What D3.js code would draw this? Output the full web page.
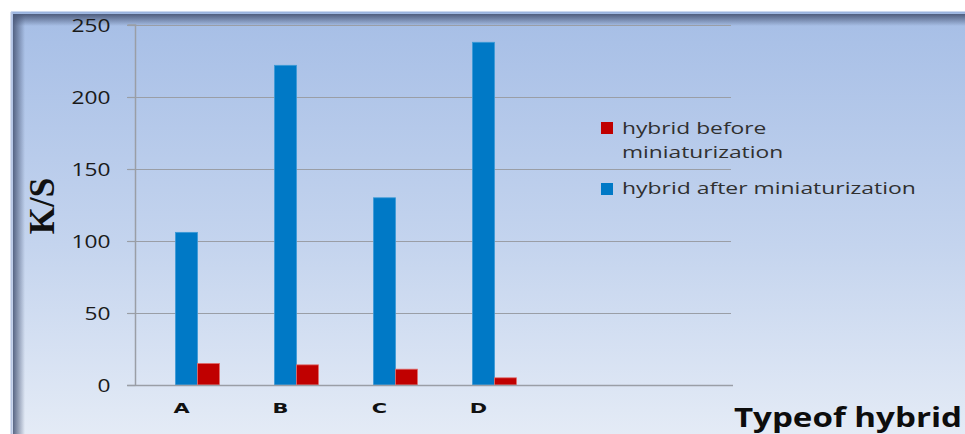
<!DOCTYPE html>
<html><head><meta charset="utf-8">
<script src="https://cdn.jsdelivr.net/npm/d3@7"></script>
<style>html,body{margin:0;padding:0;background:#fff;overflow:hidden}</style>
</head><body>
<svg id="c" width="965" height="434"></svg>
<script>
const categories = ["A","B","C","D","E","F"];
const shownLabels = ["A","B","C","D","",""];
const before = [15, 14, 11, 5, null, null];
const after = [106, 222, 130, 238, null, null];
const yTicks = [0, 50, 100, 150, 200, 250];
const seriesNames = ["hybrid before miniaturization", "hybrid after miniaturization"];
const colors = ["#c00000", "#0079c6"];

const svg = d3.select("#c");
const defs = svg.append("defs");
const bg = defs.append("linearGradient").attr("id","bg").attr("x1",0).attr("y1",0).attr("x2",0).attr("y2",1);
bg.append("stop").attr("offset","0%").attr("stop-color","#a6bee6");
bg.append("stop").attr("offset","55%").attr("stop-color","#c4d4ee");
bg.append("stop").attr("offset","100%").attr("stop-color","#e4ebf6");
const sh = defs.append("linearGradient").attr("id","shT").attr("x1",0).attr("y1",0).attr("x2",0).attr("y2",1);
sh.append("stop").attr("offset","0%").attr("stop-color","#4a5878").attr("stop-opacity",0.95);
sh.append("stop").attr("offset","100%").attr("stop-color","#4a5878").attr("stop-opacity",0);
const shl = defs.append("linearGradient").attr("id","shL").attr("x1",0).attr("y1",0).attr("x2",1).attr("y2",0);
shl.append("stop").attr("offset","0%").attr("stop-color","#4a5878").attr("stop-opacity",0.9);
shl.append("stop").attr("offset","100%").attr("stop-color","#4a5878").attr("stop-opacity",0);

// panel
svg.append("rect").attr("x",11).attr("y",12).attr("width",954).attr("height",422).attr("fill","url(#bg)");
svg.append("rect").attr("x",13).attr("y",14).attr("width",952).attr("height",12).attr("fill","url(#shT)");
svg.append("rect").attr("x",13).attr("y",14).attr("width",12).attr("height",420).attr("fill","url(#shL)");
svg.append("line").attr("x1",11).attr("x2",965).attr("y1",12.5).attr("y2",12.5).attr("stroke","#9ab3de").attr("stroke-width",2);
svg.append("line").attr("x1",11.5).attr("x2",11.5).attr("y1",12).attr("y2",434).attr("stroke","#b7c6e4").attr("stroke-width",2);

const plotL = 135, plotR = 731, plotT = 25, plotB = 385;
const y = d3.scaleLinear().domain([0,250]).range([plotB, plotT]);
const x = d3.scaleBand().domain(categories).range([148, 742]).paddingInner(0).paddingOuter(0);
const barW = 22;
const xs = d3.scaleBand().domain([0,1]).range([0, barW*2]);

// grid
const g = svg.append("g");
g.selectAll("line.grid").data(yTicks.filter(t=>t>0)).join("line")
  .attr("x1",plotL-8).attr("x2",plotR).attr("y1",d=>Math.round(y(d))+0.5).attr("y2",d=>Math.round(y(d))+0.5)
  .attr("stroke","#9a9ea6").attr("stroke-width",1.2);

// y axis
const yAxis = d3.axisLeft(y).tickValues(yTicks).tickSize(8).tickPadding(17);
const ya = svg.append("g").attr("transform",`translate(${plotL+0.5},0)`).call(yAxis);
ya.select(".domain").attr("stroke","#9a9ea6").attr("stroke-width",1.5).attr("d",`M-8,${plotT}H0V${plotB}`);
ya.selectAll(".tick line").attr("stroke","#9a9ea6").attr("stroke-width",1.2);
ya.selectAll(".tick text").each(function(d){
  const t = d3.select(this);
  t.attr("x",null).attr("dy",null)
   .attr("transform",`translate(-25,${6}) scale(1.3,1)`)
   .attr("font-family","Open Sans, sans-serif").attr("font-size",17.5).attr("fill","#1a1a1a");
});

// bars
const series = [before, after];
const cg = svg.append("g");
categories.forEach((c,i)=>{
  const cx = x(c) + x.bandwidth()/2 - barW;
  [1,0].forEach((s,k)=>{
    const v = series[s][i];
    if (v==null) return;
    cg.append("rect").attr("x",cx + xs(k)).attr("width",barW)
      .attr("y",y(v)).attr("height",y(0)-y(v)).attr("fill",colors[s])
      .attr("stroke", s===0 ? "#e07070" : "#3b9ad6").attr("stroke-width",0.8);
  });
});

// x axis baseline
svg.append("line").attr("x1",plotL-8).attr("x2",plotR+2).attr("y1",plotB+0.5).attr("y2",plotB+0.5).attr("stroke","#9a9ea6").attr("stroke-width",1.5);

// x labels
svg.append("g").selectAll("text").data(categories).join("text")
  .attr("transform",(d)=>`translate(${x(d)+x.bandwidth()/2-16},413) scale(1.55,1)`)
  .attr("text-anchor","middle").attr("font-family","DejaVu Sans, sans-serif").attr("font-weight","bold")
  .attr("font-size",13.5).attr("fill","#111").text((d,i)=>shownLabels[i]);

// y title
svg.append("text").attr("transform","translate(54,206) rotate(-90)").attr("text-anchor","middle")
  .attr("font-family","Liberation Serif, Times New Roman, serif").attr("font-weight","bold").attr("font-size",35)
  .attr("fill","#111").text("K/S");

// x title
svg.append("text").attr("transform","translate(962,427) scale(1.25,1)").attr("text-anchor","end")
  .attr("font-family","Open Sans, sans-serif").attr("font-weight","bold").attr("font-size",26.5)
  .attr("fill","#0d0d0d").text("Typeof hybrid");

// legend
const lg = svg.append("g").attr("font-family","Open Sans, sans-serif").attr("font-size",16.5).attr("fill","#303030");
lg.append("rect").attr("x",601).attr("y",122).attr("width",12).attr("height",12).attr("fill",colors[0]);
const t1 = lg.append("text").attr("transform","translate(622,134) scale(1.38,1)");
t1.append("tspan").attr("x",0).text("hybrid before");
t1.append("tspan").attr("x",0).attr("dy",24).text("miniaturization");
lg.append("rect").attr("x",601).attr("y",183).attr("width",12).attr("height",12).attr("fill",colors[1]);
lg.append("text").attr("transform","translate(622,194) scale(1.39,1)").text(seriesNames[1]);
</script>
</body></html>
